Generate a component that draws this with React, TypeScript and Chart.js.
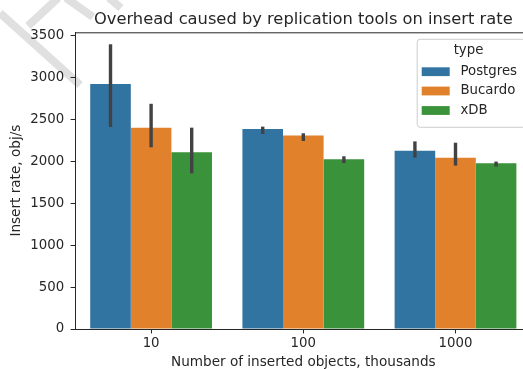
import React, { useEffect, useRef } from "react";
import { Chart, registerables } from "chart.js";

Chart.register(...registerables);

const categories = ["10", "100", "1000"];
const seriesNames = ["Postgres", "Bucardo", "xDB"];
const postgres = [2927, 2389, 2130];
const bucardo = [2405, 2310, 2047];
const xdb = [2111, 2027, 1980];
const postgresLow = [2413, 2330, 2047];
const postgresHigh = [3401, 2417, 2241];
const bucardoLow = [2170, 2246, 1952];
const bucardoHigh = [2690, 2338, 2225];
const xdbLow = [1859, 1983, 1940];
const xdbHigh = [2405, 2063, 2000];
const yTicks = [0, 500, 1000, 1500, 2000, 2500, 3000, 3500];

const colors = ["#3274a1", "#e1812c", "#3a923a"];
const TEXT = "#262626";
const FONT = "DejaVu Sans";

export default function App() {
  const ref = useRef<HTMLCanvasElement>(null);
  useEffect(() => {
    const lows = [postgresLow, bucardoLow, xdbLow];
    const highs = [postgresHigh, bucardoHigh, xdbHigh];
    const deco = {
      id: "deco",
      beforeDraw(chart: any) {
        // faint watermark strokes in the top-left corner
        const ctx = chart.ctx;
        ctx.save();
        ctx.strokeStyle = "#e0e0e0";
        ctx.lineWidth = 8;
        ctx.lineCap = "butt";
        const segs = [
          [0, 13, 80, 85],
          [28, 26, 58, -2],
          [66, -2, 93, 17],
          [109, -2, 121, 8],
        ];
        segs.forEach((s) => {
          ctx.beginPath();
          ctx.moveTo(s[0], s[1]);
          ctx.lineTo(s[2], s[3]);
          ctx.stroke();
        });
        ctx.restore();
      },
      afterDatasetsDraw(chart: any) {
        const ctx = chart.ctx;
        const y = chart.scales.y;
        ctx.save();
        ctx.strokeStyle = "#424242";
        ctx.lineWidth = 3.4;
        ctx.lineCap = "butt";
        chart.data.datasets.forEach((_: any, di: number) => {
          const meta = chart.getDatasetMeta(di);
          meta.data.forEach((el: any, i: number) => {
            ctx.beginPath();
            ctx.moveTo(el.x, y.getPixelForValue(highs[di][i]));
            ctx.lineTo(el.x, y.getPixelForValue(lows[di][i]));
            ctx.stroke();
          });
        });
        ctx.restore();
      },
      afterDraw(chart: any) {
        const ctx = chart.ctx;
        const a = chart.chartArea;
        ctx.save();
        // top spine
        ctx.strokeStyle = TEXT;
        ctx.lineWidth = 1;
        ctx.beginPath();
        ctx.moveTo(a.left, a.top + 0.5);
        ctx.lineTo(a.right, a.top + 0.5);
        ctx.stroke();
        // title
        ctx.fillStyle = TEXT;
        ctx.font = `16.3px ${FONT}`;
        ctx.textAlign = "center";
        ctx.textBaseline = "alphabetic";
        ctx.fillText("Overhead caused by replication tools on insert rate", (a.left + a.right) / 2, 24);
        // x label
        ctx.font = `13.6px ${FONT}`;
        ctx.textBaseline = "middle";
        ctx.fillText("Number of inserted objects, thousands", (a.left + a.right) / 2, 362);
        // y label
        ctx.save();
        ctx.translate(16.5, (a.top + a.bottom) / 2);
        ctx.rotate(-Math.PI / 2);
        ctx.fillText("Insert rate, obj/s", 0, 0);
        ctx.restore();
        // legend
        const lx = 416.7, ly = 38.8, lw = 108, lh = 88;
        ctx.fillStyle = "rgba(255,255,255,0.8)";
        ctx.strokeStyle = "#cccccc";
        ctx.lineWidth = 1;
        ctx.beginPath();
        (ctx as any).roundRect(lx + 0.5, ly + 0.5, lw, lh, 3);
        ctx.fill();
        ctx.stroke();
        ctx.font = `13.3px ${FONT}`;
        ctx.fillStyle = TEXT;
        ctx.textAlign = "center";
        ctx.fillText("type", 468.5, 50.8);
        const rows = [71.7, 91, 110.5];
        seriesNames.forEach((n, i) => {
          ctx.fillStyle = colors[i];
          ctx.fillRect(421.7, rows[i] - 4.4, 28, 8.8);
          ctx.fillStyle = TEXT;
          ctx.textAlign = "left";
          ctx.fillText(n, 460.5, rows[i]);
        });
        ctx.restore();
      },
    };
    const chart = new Chart(ref.current!, {
      type: "bar",
      data: {
        labels: categories,
        datasets: [
          { label: seriesNames[0], data: postgres, backgroundColor: colors[0] },
          { label: seriesNames[1], data: bucardo, backgroundColor: colors[1] },
          { label: seriesNames[2], data: xdb, backgroundColor: colors[2] },
        ],
      },
      options: {
        animation: false,
        responsive: false,
        events: [],
        datasets: { bar: { categoryPercentage: 0.8, barPercentage: 1.0, borderWidth: 0 } },
        layout: { padding: { top: 32.3, right: 8.4, left: 0, bottom: 0 } },
        plugins: { legend: { display: false }, title: { display: false }, tooltip: { enabled: false } },
        scales: {
          x: {
            offset: true,
            grid: { display: true, drawOnChartArea: false, drawTicks: true, tickLength: 4.4, color: TEXT, offset: false },
            border: { display: true, color: TEXT, width: 1 },
            ticks: { color: TEXT, font: { family: FONT, size: 13.3 }, padding: 2.5 },
            afterFit: (s: any) => { s.height = 40; },
          },
          y: {
            min: 0,
            max: 3544,
            afterBuildTicks: (s: any) => { s.ticks = yTicks.map((v) => ({ value: v })); },
            grid: { display: true, drawOnChartArea: false, drawTicks: true, tickLength: 4.4, color: TEXT },
            border: { display: true, color: TEXT, width: 1 },
            ticks: { color: TEXT, font: { family: FONT, size: 13.3 }, padding: 6.5, callback: (v: any) => String(v) },
            afterFit: (s: any) => { s.width = 75; },
          },
        },
      },
      plugins: [deco],
    });
    return () => chart.destroy();
  }, []);
  return (
    <div style={{ position: "fixed", left: 0, top: 0, width: 523, height: 369, overflow: "hidden", background: "#fff" }}>
      <canvas ref={ref} width={540} height={369} style={{ display: "block" }} />
    </div>
  );
}
